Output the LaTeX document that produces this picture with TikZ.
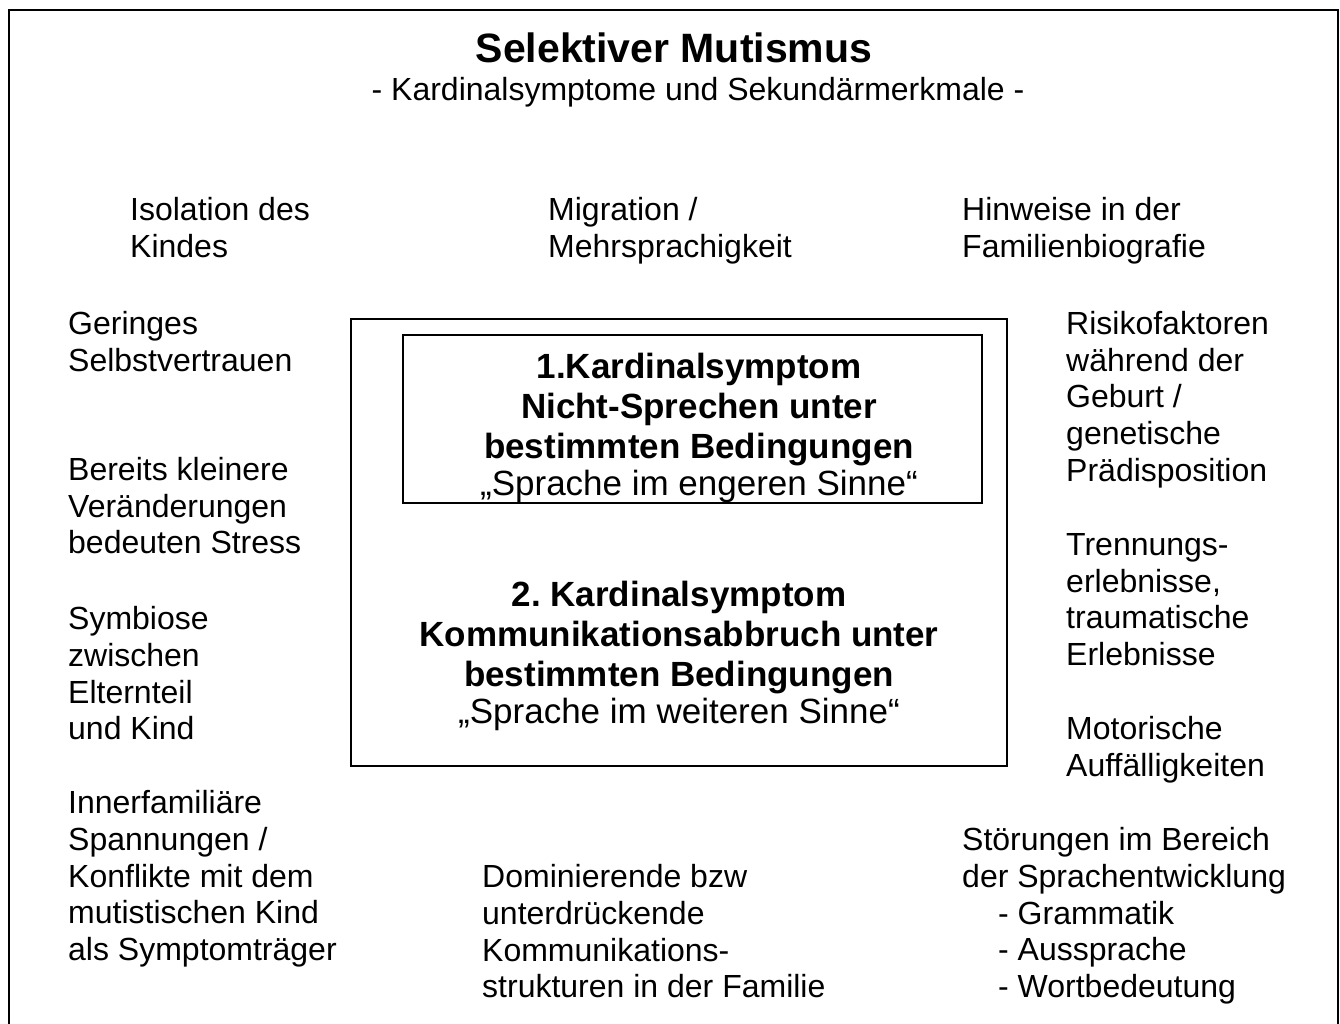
\documentclass[tikz,border=0pt]{standalone}
\usepackage{fontspec}
\setmainfont{Liberation Sans}
\usetikzlibrary{positioning}

\begin{document}
\frenchspacing
\begin{tikzpicture}[x=1pt, y=-1pt,
    side/.style={anchor=north west, align=left, inner sep=0pt, font=\fontsize{32}{36.8}\selectfont},
    kern/.style={anchor=north, align=center, inner sep=0pt, font=\fontsize{35}{40}\selectfont},
    boxline/.style={line width=2pt}]
    \useasboundingbox (0, 0) rectangle (1340, 1023);

    \draw[line width=2.5pt] (9, 1030) -- (9, 10) -- (1338, 10) -- (1338, 1030);

    \node[anchor=north, inner sep=0pt, font=\fontsize{41}{46}\selectfont\bfseries] (titel) at (674, 33) {Selektiver Mutismus};
    \node[anchor=north, inner sep=0pt, font=\fontsize{32}{37}\selectfont] (untertitel) at (698, 77) {- Kardinalsymptome und Sekundärmerkmale -};

    \node[side] (isolation) at (130, 197) {Isolation des\\Kindes};
    \node[side] (migration) at (548, 197) {Migration /\\Mehrsprachigkeit};
    \node[side] (hinweise) at (962, 197) {Hinweise in der\\Familienbiografie};

    \node[side] (geringes) at (68, 311) {Geringes\\Selbstvertrauen};
    \node[side] (bereits) at (68, 457) {Bereits kleinere\\Veränderungen\\bedeuten Stress};
    \node[side] (symbiose) at (68, 606) {Symbiose\\zwischen\\Elternteil\\und Kind};
    \node[side] (spannung) at (68, 790) {Innerfamiliäre\\Spannungen /\\Konflikte mit dem\\mutistischen Kind\\als Symptomträger};

    \node[side] (risiko) at (1066, 311) {Risikofaktoren\\während der\\Geburt /\\genetische\\Prädisposition};
    \node[side] (trennung) at (1066, 533) {Trennungs-\\erlebnisse,\\traumatische\\Erlebnisse};
    \node[side] (motorik) at (1066, 716) {Motorische\\Auffälligkeiten};
    \node[side] (sprachentw) at (962, 827) {Störungen im Bereich\\der Sprachentwicklung\\\hspace*{36pt}- Grammatik\\\hspace*{36pt}- Aussprache\\\hspace*{36pt}- Wortbedeutung};

    \node[side] (kommstruktur) at (482, 864) {Dominierende bzw\\unterdrückende\\Kommunikations-\\strukturen in der Familie};

    \draw[boxline] (351, 319) rectangle (1007, 766);
    \draw[boxline] (403, 335) rectangle (982, 503);

    \node[kern] (kern1) at (699, 353) {\textbf{1.Kardinalsymptom}\\\textbf{Nicht-Sprechen unter}\\\textbf{bestimmten Bedingungen}\\[-3pt]„Sprache im engeren Sinne“};
    \node[kern] (kern2) at (679, 581) {\textbf{2. Kardinalsymptom}\\\textbf{Kommunikationsabbruch unter}\\\textbf{bestimmten Bedingungen}\\[-3pt]„Sprache im weiteren Sinne“};
\end{tikzpicture}
\end{document}
